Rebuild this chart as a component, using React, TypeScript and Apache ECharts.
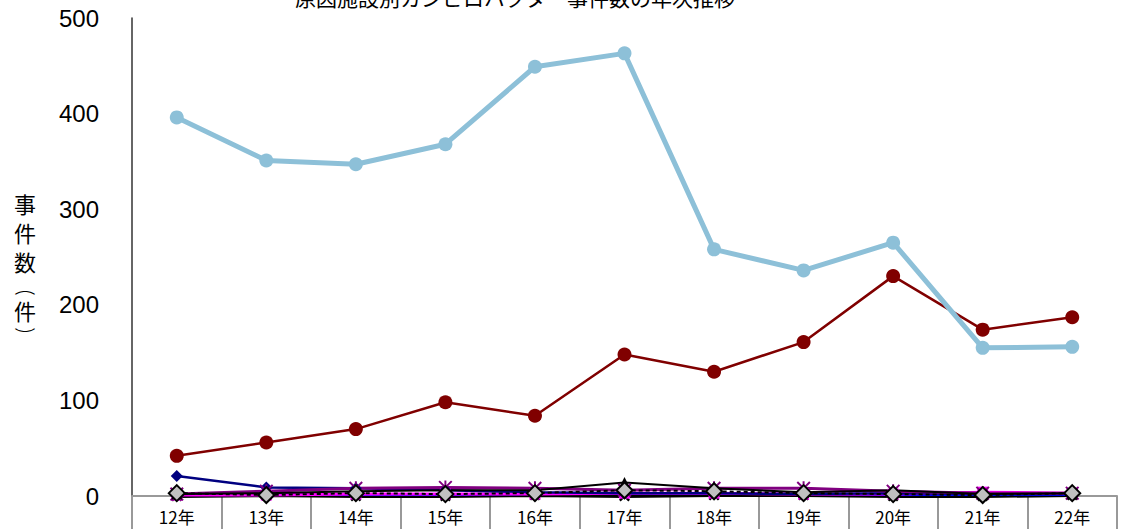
import React, { useEffect, useRef } from "react";
import * as echarts from "echarts";

const categories = ["12年", "13年", "14年", "15年", "16年", "17年", "18年", "19年", "20年", "21年", "22年"];
const yTicks = [0, 100, 200, 300, 400, 500];

const lightBlueSeries = [396, 351, 347, 368, 449, 463, 258, 236, 265, 155, 156];
const darkRedSeries = [42, 56, 70, 98, 84, 148, 130, 161, 230, 174, 187];
const navySeries = [21, 9, 8, 6, 4, 3, 3, 2, 3, 2, 2];
const purpleStarSeries = [2, 5, 8, 9, 8, 6, 8, 8, 5, 3, 3];
const blackTriangleSeries = [2, 3, 5, 6, 6, 14, 8, 4, 6, 2, 3];
const magentaSquareSeries = [1, 1, 2, 2, 2, 3, 3, 2, 2, 4, 3];
const blueLineSeries = [1, 2, 1, 1, 2, 2, 2, 2, 1, 1, 1];
const blackXSeries = [0, 1, 0, 0, 1, 0, 1, 1, 0, 0, 1];
const grayDiamondSeries = [3, 1, 3, 2, 3, 6, 5, 3, 2, 1, 3];

const titleText = "原因施設別カンピロバクター事件数の年次推移";
const yAxisNameChars = ["事", "件", "数", "︵", "件", "︶"];
const yAxisNameOffsets = [203, 232, 261, 286, 310, 334];

const STAR = "path://M4.3 0L5.7 0L5.7 10L4.3 10ZM0 1L1 0L10 9L9 10ZM9 0L10 1L1 10L0 9Z";
const XMARK = "path://M0 1.5L1.5 0L10 8.5L8.5 10ZM8.5 0L10 1.5L1.5 10L0 8.5Z";

export default function App() {
  const ref = useRef<HTMLDivElement>(null);
  useEffect(() => {
    if (!ref.current) return;
    const chart = echarts.init(ref.current, undefined, { renderer: "svg" });
    const font = "'Noto Sans CJK JP', 'Liberation Sans', sans-serif";
    const line = (name: string, data: number[], color: string, symbol: string, size: number, width: number, extra: any = {}) => ({
      type: "line",
      name,
      data,
      symbol,
      symbolSize: size,
      showSymbol: true,
      lineStyle: { color, width, ...(extra.lineStyle || {}) },
      itemStyle: { color: extra.itemColor || color, borderColor: extra.borderColor || color, borderWidth: extra.borderWidth || 0 },
      z: extra.z || 2,
    });
    const nameTexts = yAxisNameChars.map((ch, i) => {
      const isParen = ch === "︵" || ch === "︶";
      return {
        type: "text",
        x: 25,
        y: yAxisNameOffsets[i],
        scaleX: isParen ? 1.4 : 1,
        style: {
          text: ch,
          fontSize: isParen ? 15 : 22,
          lineHeight: isParen ? 15 : 22,
          fontFamily: font,
          fill: "#000",
          align: "center",
          verticalAlign: "middle",
        },
      };
    });
    chart.setOption({
      animation: false,
      grid: { left: 132, right: 8, top: 18, bottom: 33, containLabel: false },
      graphic: [
        {
          type: "text",
          x: 515,
          y: -3,
          style: { text: titleText, fontSize: 21, fontFamily: font, fill: "#000", align: "center", verticalAlign: "middle" },
        },
        ...nameTexts,
      ],
      xAxis: {
        type: "category",
        data: categories,
        boundaryGap: true,
        axisLine: { lineStyle: { color: "#999", width: 2 } },
        axisTick: { show: true, interval: 0, length: 40, lineStyle: { color: "#999", width: 2 } },
        axisLabel: { interval: 0, fontSize: 17, color: "#000", margin: 12, fontFamily: font },
        splitLine: { show: false },
      },
      yAxis: {
        type: "value",
        min: yTicks[0],
        max: yTicks[yTicks.length - 1],
        interval: 100,
        axisLine: { show: true, lineStyle: { color: "#333", width: 1.5 } },
        axisTick: { show: false },
        axisLabel: { fontSize: 24, color: "#000", margin: 33, fontFamily: "'Liberation Sans', Arial, sans-serif" },
        splitLine: { show: false },
      },
      series: [
        line("blackX", blackXSeries, "#000", XMARK, 11, 4, { z: 2 }),
        line("blue", blueLineSeries, "#0000FF", "none", 0, 2, { z: 2 }),
        line("magenta", magentaSquareSeries, "#FF00FF", "rect", 11, 3, { z: 3 }),
        line("navy", navySeries, "#000080", "diamond", 12, 2.5, { z: 3 }),
        line("purple", purpleStarSeries, "#800080", STAR, 14, 3, { z: 3 }),
        line("blackTri", blackTriangleSeries, "#000", "triangle", 11, 2, { z: 3 }),
        line("grayDiamond", grayDiamondSeries, "#000", "diamond", 16, 2, {
          lineStyle: { type: [4, 3] },
          itemColor: "#C0C0C0",
          borderColor: "#000",
          borderWidth: 2,
          z: 4,
        }),
        line("darkRed", darkRedSeries, "#800000", "circle", 14, 2.5, { z: 5 }),
        line("lightBlue", lightBlueSeries, "#8DC0D8", "circle", 14, 5, { z: 6 }),
      ],
    });
    return () => chart.dispose();
  }, []);
  return <div ref={ref} style={{ width: 1125, height: 529, position: "absolute", left: 0, top: 0, background: "#fff" }} />;
}
